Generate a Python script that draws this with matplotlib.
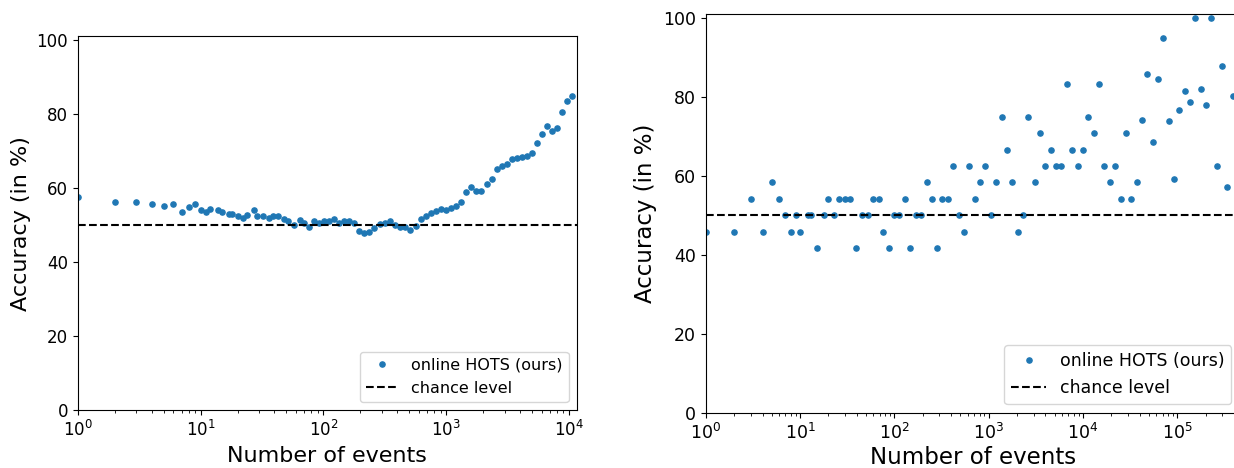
import numpy as np
from matplotlib import pyplot as plt

# left panel: accuracy vs number of events
n_left = [1, 2, 3, 4, 5, 6, 7, 8, 9, 10, 11, 12, 14, 15, 17, 18, 20, 22, 24, 27,
          29, 32, 36, 39, 43, 48, 52, 58, 64, 70, 77, 84, 93, 102, 112, 123, 135,
          148, 163, 179, 196, 216, 237, 260, 288, 316, 347, 382, 420, 460, 508,
          569, 625, 686, 754, 828, 910, 1000, 1097, 1205, 1324, 1453, 1604, 1763,
          1936, 2138, 2350, 2582, 2837, 3117, 3424, 3760, 4130, 4534, 4980, 5470,
          6010, 6635, 7285, 8000, 8790, 9660, 10600]
acc_left = [57.5, 56.1, 56.1, 55.6, 55.0, 55.6, 53.6, 54.8, 55.8, 54.1, 53.6, 54.4,
            54.1, 53.6, 53.0, 53.0, 52.5, 52.0, 52.8, 54.0, 52.5, 52.5, 52.0, 52.3,
            52.5, 51.7, 51.2, 50.1, 51.4, 50.6, 49.5, 51.0, 50.6, 51.2, 51.0, 51.7,
            50.6, 51.0, 51.0, 50.6, 48.4, 47.8, 48.1, 49.2, 50.3, 50.6, 51.0, 50.1,
            49.5, 49.5, 48.7, 49.8, 51.7, 52.5, 53.3, 53.9, 54.4, 54.1, 54.7, 55.0,
            56.1, 58.8, 60.2, 59.1, 59.1, 61.2, 62.3, 65.0, 65.8, 66.6, 67.7, 68.0,
            68.3, 68.5, 69.4, 72.2, 74.6, 76.8, 75.4, 76.2, 80.4, 83.6, 84.7]

# right panel
n_right = [1, 2, 3, 4, 5, 6, 7, 8, 9, 10, 12, 13, 15, 18, 20, 23, 26, 30, 34, 39,
           45, 52, 59, 68, 76, 88, 99, 113, 130, 148, 169, 192, 220, 251, 284, 323,
           368, 419, 482, 548, 615, 711, 811, 923, 1060, 1207, 1376, 1567, 1786,
           2034, 2316, 2638, 3083, 3510, 3994, 4556, 5188, 5904, 6780, 7722, 8806,
           10020, 11410, 13020, 14820, 16880, 19230, 21890, 25140, 28620, 32600,
           37150, 42340, 48200, 54960, 62530, 71270, 81240, 92500, 105200, 120000,
           136700, 155600, 177400, 201900, 230000, 262200, 298500, 339700, 387300]
acc_right = [45.83, 45.83, 54.17, 45.83, 58.33, 54.17, 50, 45.83, 50, 45.83,
             50, 50, 41.67, 50, 54.17, 50, 54.17, 54.17, 54.17, 41.67,
             50, 50, 54.17, 54.17, 45.83, 41.67, 50, 50, 54.17, 41.67,
             50, 50, 58.33, 54.17, 41.67, 54.17, 54.17, 62.5, 50, 45.83,
             62.5, 54.17, 58.33, 62.5, 50, 58.33, 75, 66.67, 58.33, 45.83,
             50, 75, 58.33, 70.83, 62.5, 66.67, 62.5, 62.5, 83.33, 66.67,
             62.5, 66.67, 75, 70.83, 83.33, 62.5, 58.33, 62.5, 54.17, 70.83,
             54.17, 58.33, 74.1, 85.9, 68.6, 84.5, 94.8, 73.9, 59.1, 76.6,
             81.5, 78.8, 100, 82.0, 77.9, 100, 62.5, 87.7, 57.2, 80.1]

chance = 50

fig = plt.figure(figsize=(12.34, 4.68), dpi=100)
ax1 = fig.add_axes([0.063, 0.1233, 0.4043, 0.7997])
ax2 = fig.add_axes([0.5719, 0.1182, 0.4331, 0.8519])

panels = [(ax1, n_left, acc_left, 11560, 16, 12, 11.5, 4.0),
          (ax2, n_right, acc_right, 4.64e5, 16.5, 12.5, 12.5, 2.5)]

for ax, n, acc, xmax, lab_fs, tick_fs, leg_fs, pad in panels:
    ax.plot(n, acc, '.', color='#1f77b4', ms=7.5, label='online HOTS (ours)')
    ax.axhline(chance, color='k', ls='--', lw=1.5, label='chance level')
    ax.set_xscale('log')
    ax.set_xlim(1, xmax)
    ax.set_ylim(0, 101)
    ax.set_yticks(np.arange(0, 101, 20))
    ax.tick_params(labelsize=tick_fs)
    ax.set_xlabel('Number of events', fontsize=lab_fs, labelpad=pad)
    ax.set_ylabel('Accuracy (in %)', fontsize=lab_fs)
    ax.legend(loc='lower right', fontsize=leg_fs, numpoints=1)

plt.savefig('out.png', dpi=100)
